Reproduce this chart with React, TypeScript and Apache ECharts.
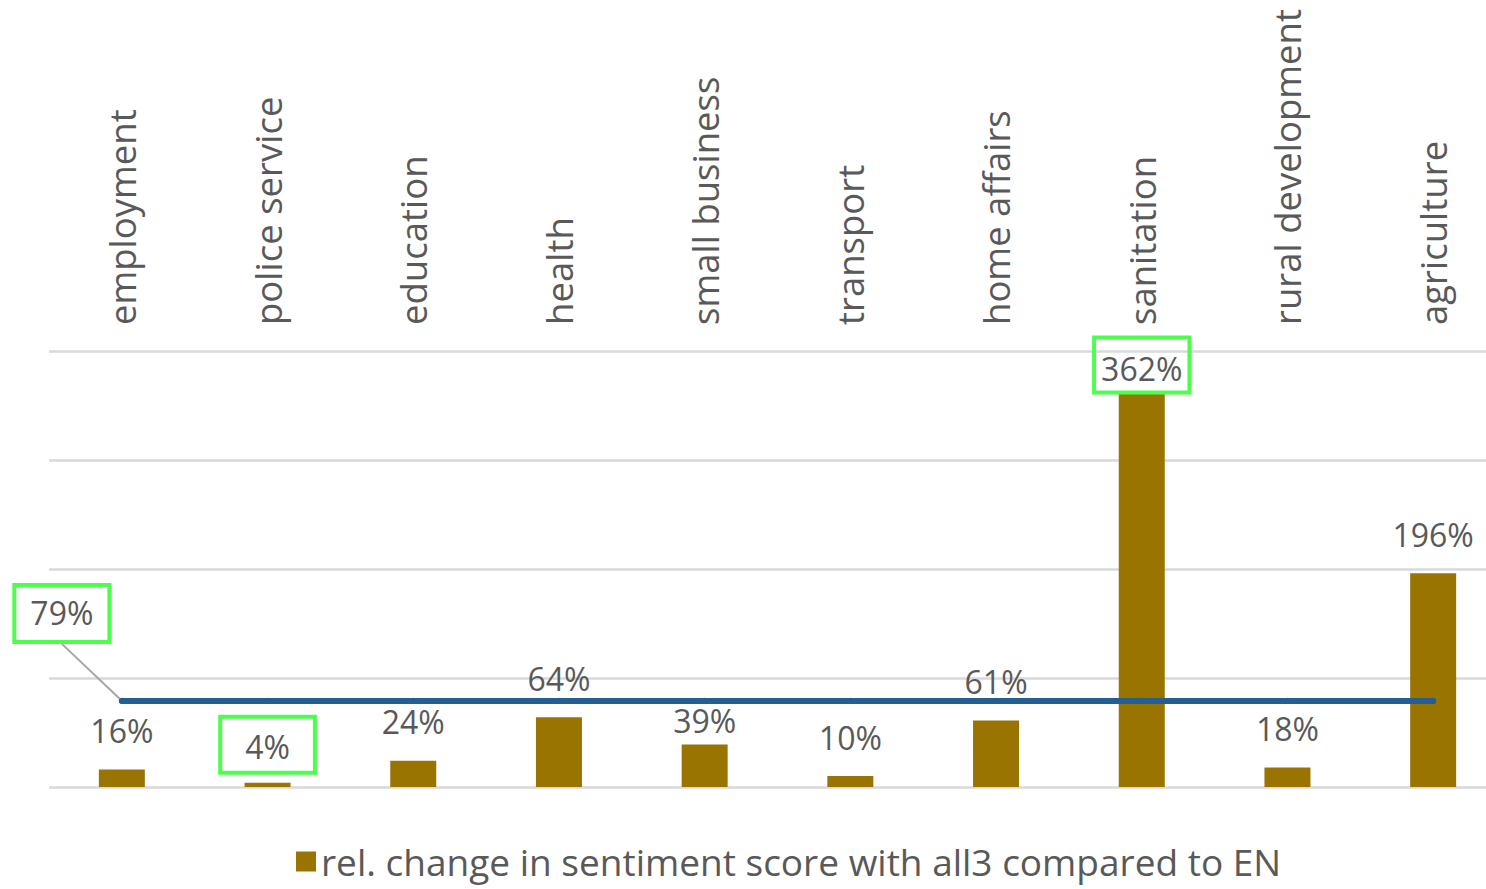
import React, { useEffect, useRef } from "react";
import * as echarts from "echarts";

const CATEGORIES = [
  "employment",
  "police service",
  "education",
  "health",
  "small business",
  "transport",
  "home affairs",
  "sanitation",
  "rural development",
  "agriculture",
];
const BAR_VALUES = [16, 4, 24, 64, 39, 10, 61, 362, 18, 196];
const LINE_VALUES = [79, 79, 79, 79, 79, 79, 79, 79, 79, 79];
const Y_TICKS = [0, 100, 200, 300, 400];
const SERIES_NAME = "rel. change in sentiment score with all3 compared to EN";

const FONT = "'Open Sans', 'Noto Sans', sans-serif";
const TEXT = "#595959";
const GREEN = "#4dff4d";

export default function App() {
  const ref = useRef<HTMLDivElement>(null);
  useEffect(() => {
    if (!ref.current) return;
    const chart = echarts.init(ref.current, undefined, { renderer: "svg" });
    const barData = BAR_VALUES.map((v, i) => {
      const cat = CATEGORIES[i];
      if (cat === "police service") {
        return {
          value: v,
          label: {
            borderColor: GREEN,
            borderWidth: 4,
            padding: [14, 25, 10, 25],
            distance: 10,
          },
        };
      }
      if (cat === "sanitation") {
        return {
          value: v,
          label: {
            borderColor: GREEN,
            borderWidth: 4,
            padding: [15, 7, 8, 7],
            distance: 0,
          },
        };
      }
      if (cat === "small business") {
        return { value: v, label: { distance: 8 } };
      }
      return v;
    });
    const lineData = LINE_VALUES.map((v, i) =>
      i === 0
        ? {
            value: v,
            label: {
              show: true,
              borderColor: GREEN,
              borderWidth: 4,
              padding: [10, 14, 11, 14],
              backgroundColor: "#fff",
            },
          }
        : v
    );
    chart.setOption({
      animation: false,
      backgroundColor: "#fff",
      textStyle: { fontFamily: FONT },
      grid: { left: 49, top: 351, right: 14, bottom: 102, containLabel: false },
      legend: {
        data: [SERIES_NAME],
        left: 291,
        top: 838,
        icon: "rect",
        itemWidth: 20,
        itemHeight: 20,
        itemGap: 10,
        textStyle: { fontSize: 37, color: TEXT, fontFamily: FONT },
      },
      xAxis: {
        type: "category",
        position: "top",
        data: CATEGORIES,
        axisLine: { show: false },
        axisTick: { show: false },
        axisLabel: {
          rotate: 90,
          margin: 26,
          fontSize: 36.5,
          color: TEXT,
          fontFamily: FONT,
          interval: 0,
        },
      },
      yAxis: {
        type: "value",
        min: Y_TICKS[0],
        max: Y_TICKS[Y_TICKS.length - 1],
        interval: 100,
        axisLabel: { show: false },
        axisLine: { show: false },
        axisTick: { show: false },
        splitLine: { lineStyle: { color: "#d9d9d9", width: 2.5 } },
      },
      series: [
        {
          name: SERIES_NAME,
          type: "bar",
          data: barData,
          barWidth: 46,
          itemStyle: { color: "#9a7400" },
          label: {
            show: true,
            position: "top",
            distance: 23,
            fontSize: 32,
            color: TEXT,
            fontFamily: FONT,
            formatter: "{c}%",
          },
          z: 2,
        },
        {
          name: "line",
          type: "line",
          data: lineData,
          symbol: "circle",
          symbolSize: 6,
          showSymbol: true,
          itemStyle: { color: "#255e91" },
          lineStyle: { color: "#255e91", width: 6, cap: "round" },
          label: {
            show: false,
            position: "top",
            distance: 5,
            fontSize: 32,
            color: TEXT,
            fontFamily: FONT,
            formatter: "{c}%",
          },
          labelLayout: (params: any) =>
            params.dataIndex === 0 ? { dx: -60, dy: -53 } : {},
          labelLine: {
            show: true,
            lineStyle: { color: "#a6a6a6", width: 2 },
          },
          z: 3,
        },
      ],
    });
    return () => chart.dispose();
  }, []);
  return (
    <div
      style={{
        position: "absolute",
        left: 0,
        top: 0,
        width: 1486,
        height: 889,
        overflow: "hidden",
        background: "#fff",
      }}
    >
      <div ref={ref} style={{ width: 1520, height: 889 }} />
    </div>
  );
}
